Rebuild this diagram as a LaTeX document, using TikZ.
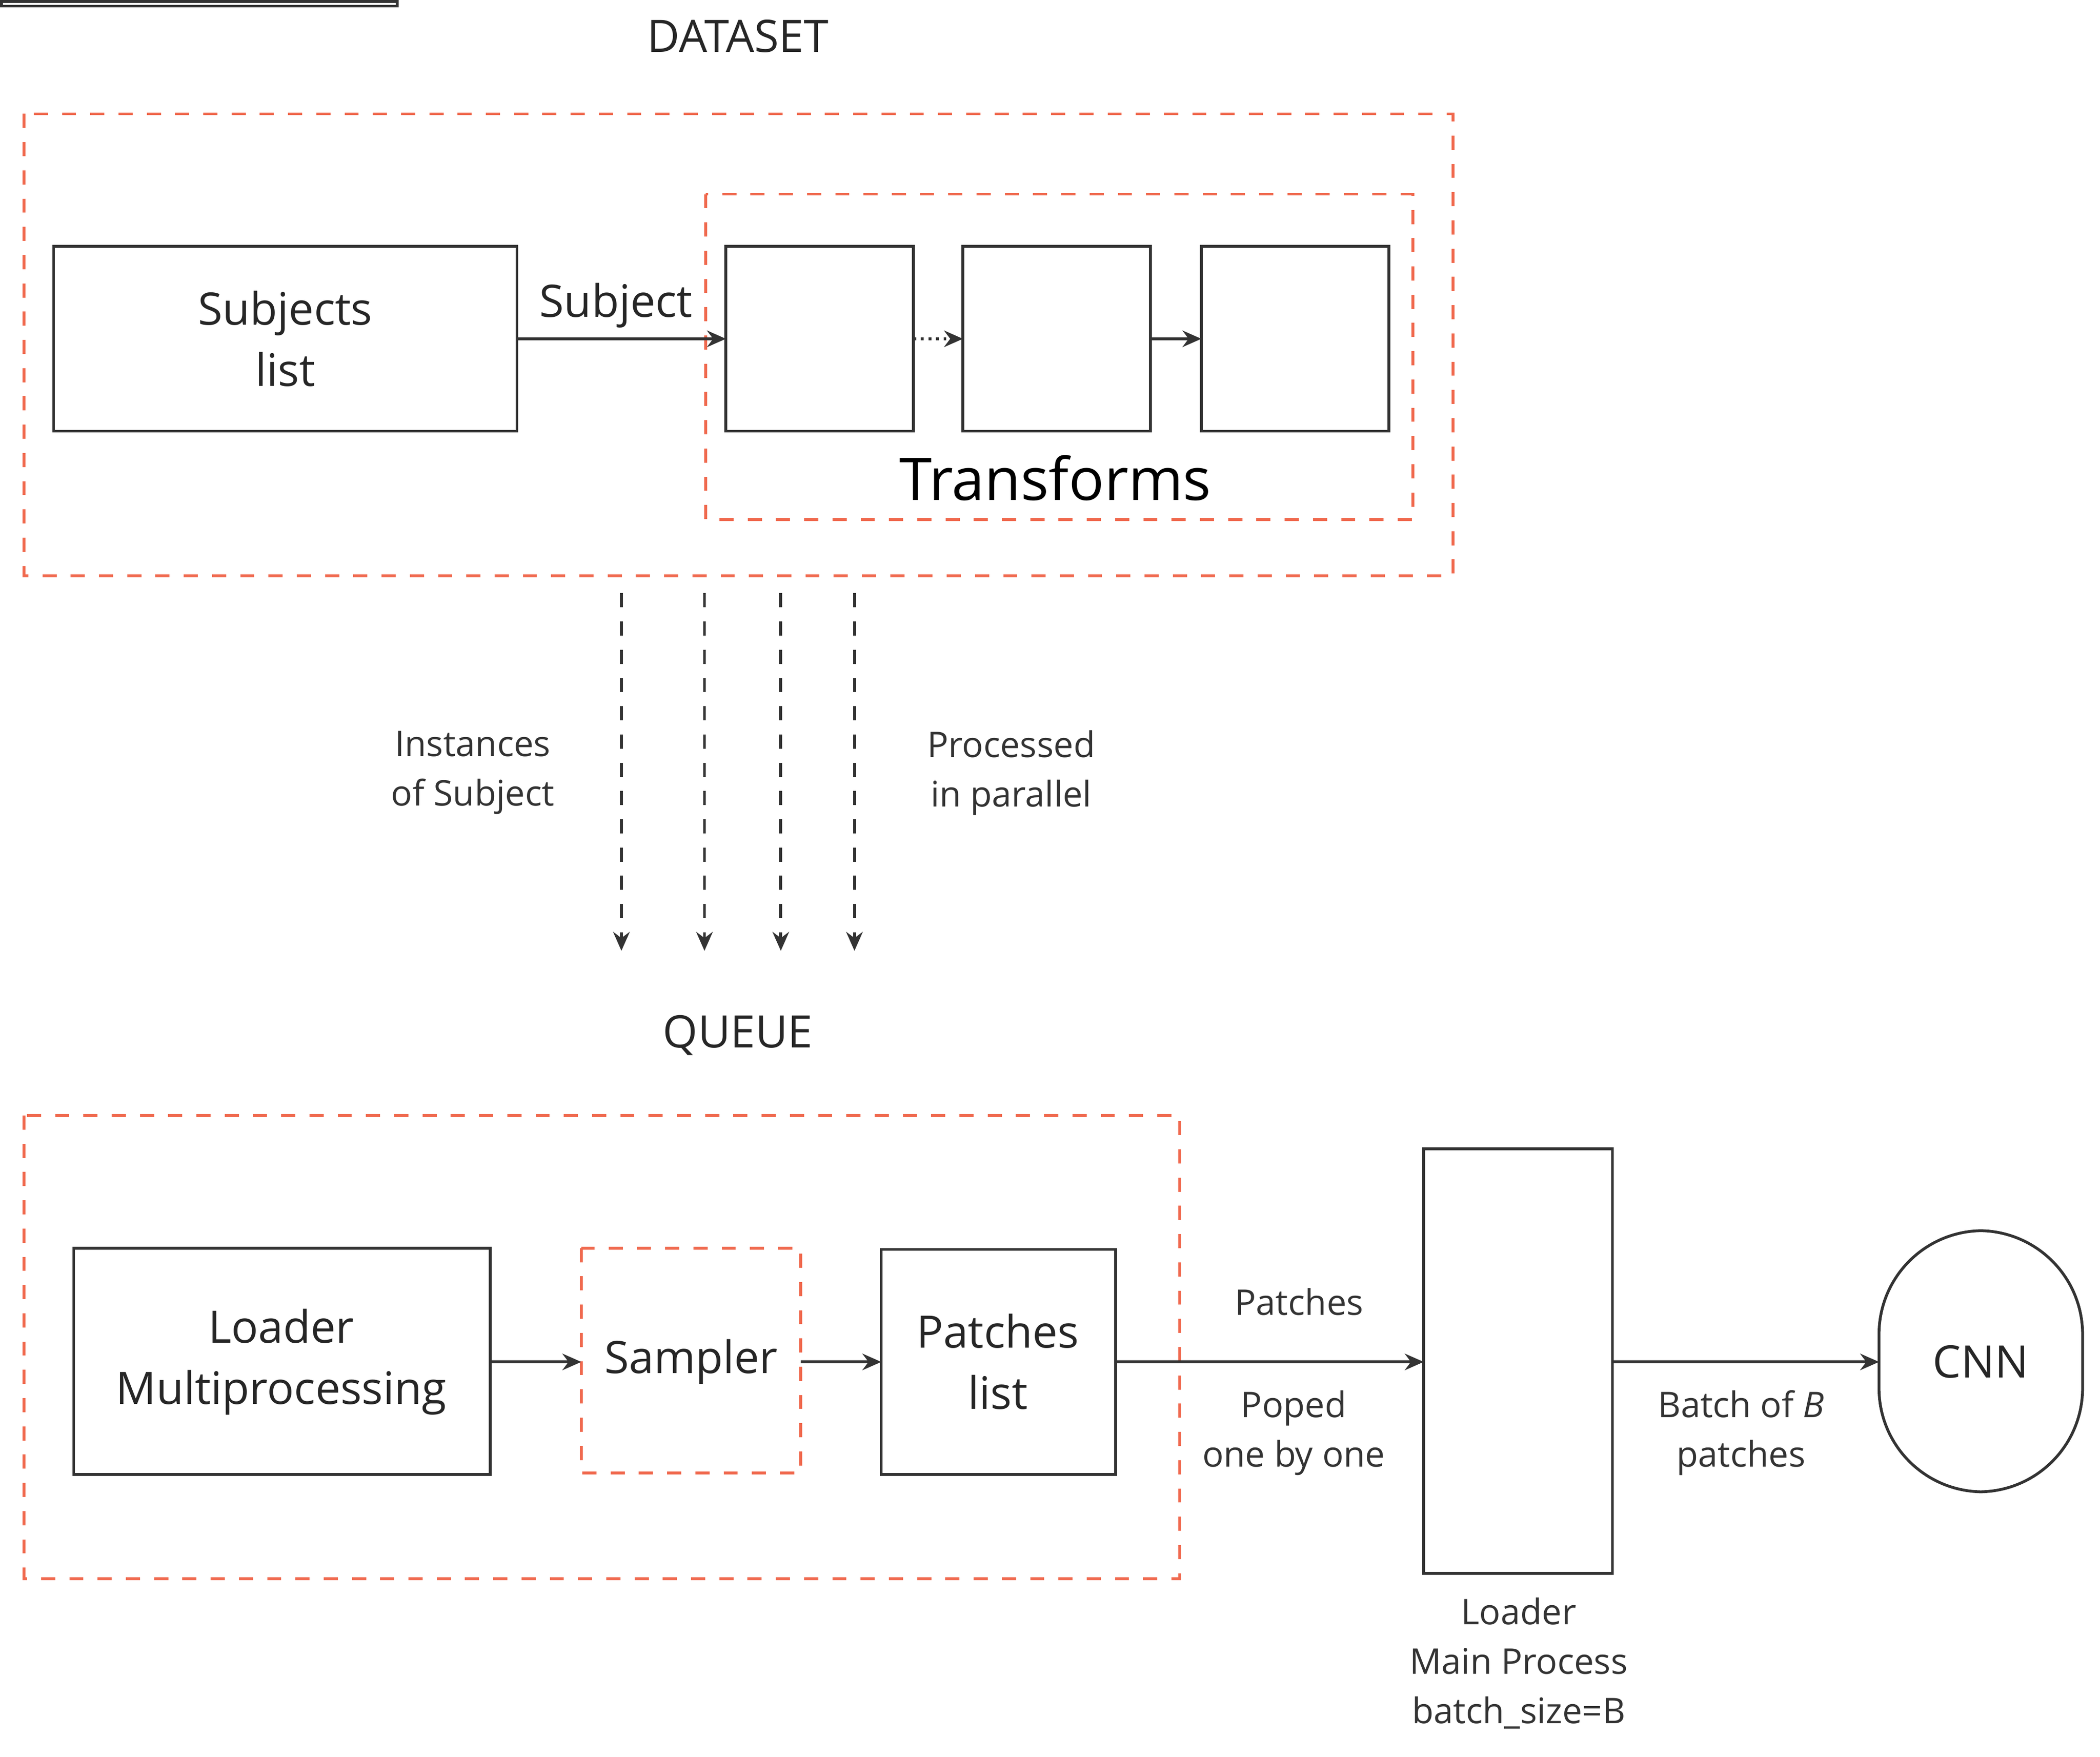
\documentclass[tikz,border=0pt]{standalone}
\usepackage{fontspec}
\setmainfont{Open Sans}
\usetikzlibrary{arrows.meta}
\definecolor{dred}{HTML}{F0694E}
\definecolor{ln}{HTML}{333333}
\begin{document}
\begin{tikzpicture}[x=0.01cm,y=-0.01cm,
  box/.style={draw=ln,line width=0.6pt,inner sep=0pt},
  grp/.style={draw=dred,dashed,line width=0.6pt},
  arr/.style={draw=ln,line width=0.6pt,-{Stealth[length=4pt,width=3.5pt]}},
  darr/.style={arr,dashed},
  big/.style={font=\fontsize{9.5pt}{13pt}\selectfont,align=center,text=black!85},
  small/.style={font=\fontsize{7.5pt}{10.5pt}\selectfont,align=center,text=black!80}]
\useasboundingbox (0,0) rectangle (1568,1312);
\fill[white] (0,0) rectangle (1568,1312);
% dataset
\node[big] (dtitle) at (551,27) {DATASET};
\draw[grp] (18,85) rectangle (1085,430);
\draw[grp] (527,145) rectangle (1055,388);
\draw[box] (40,184) rectangle (386,322);
\node[big] (sl) at (213,253) {Subjects\\list};
\coordinate (slE) at (386,253);
\node[box,minimum width=140\pgflinewidth,anchor=north west] at (0,0) {};
\draw[box] (542,184) rectangle (682,322);
\draw[box] (719,184) rectangle (859,322);
\draw[box] (897,184) rectangle (1037,322);
\coordinate (t1W) at (542,253); \coordinate (t1E) at (682,253);
\coordinate (t2W) at (719,253); \coordinate (t2E) at (859,253);
\coordinate (t3W) at (897,253);
\draw[arr] (slE) -- (t1W);
\draw[arr,densely dotted] (t1E) -- (t2W);
\draw[arr] (t2E) -- (t3W);
\node[big] (subj) at (460,228) {Subject};
\node[font=\fontsize{12.5pt}{15pt}\selectfont] (tr) at (788,357) {Transforms};
% parallel arrows
\foreach \x/\n in {464/a,526/b,583/c,638/d}{
  \coordinate (s\n) at (\x,443); \coordinate (e\n) at (\x,710);
  \draw[darr] (s\n) -- (e\n);}
\node[small] (inst) at (353,577) {Instances\\of Subject};
\node[small] (proc) at (755,577) {Processed\\in parallel};
% queue
\node[big] (qtitle) at (551,773) {QUEUE};
\draw[grp] (18,833) rectangle (881,1179);
\draw[box] (55,932) rectangle (366,1101);
\node[big] (lm) at (210,1017) {Loader\\Multiprocessing};
\draw[grp] (434,932) rectangle (598,1100);
\node[big] (samp) at (516,1017) {Sampler};
\draw[box] (658,933) rectangle (833,1101);
\node[big] (pl) at (745,1017) {Patches\\list};
\draw[box] (1063,858) rectangle (1204,1175);
\draw[box,rounded corners=22] (1403,919) rectangle (1555,1114);
\node[big] (cnn) at (1479,1017) {CNN};
\draw[arr] (366,1017) -- (434,1017);
\draw[arr] (598,1017) -- (658,1017);
\draw[arr] (833,1017) -- (1063,1017);
\draw[arr] (1204,1017) -- (1403,1017);
\node[small] (pt) at (970,972) {Patches};
\node[small] (pop) at (966,1070) {Poped\\one by one};
\node[small] (bat) at (1300,1070) {Batch of \textit{B}\\patches};
\node[small] (lmp) at (1134,1242) {Loader\\Main Process\\batch\_size=B};
\end{tikzpicture}
\end{document}
